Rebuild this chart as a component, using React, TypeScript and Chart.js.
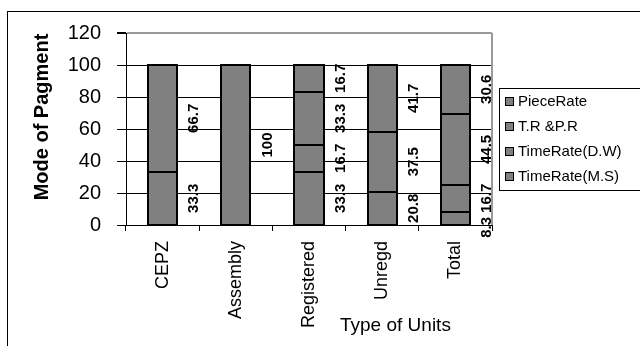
import { useEffect, useRef } from "react";
import { Chart, registerables } from "chart.js";

Chart.register(...registerables);

// Categories along the x axis
const unitTypes = ["CEPZ", "Assembly", "Registered", "Unregd", "Total"];

// Stacked shares (%), listed bottom segment first
const timeRateMS = [33.3, 0, 33.3, 20.8, 8.3];
const timeRateDW = [0, 0, 16.7, 37.5, 16.7];
const trAndPr = [0, 0, 33.3, 0, 44.5];
const pieceRate = [66.7, 100, 16.7, 41.7, 30.6];

// Legend entries, top to bottom
const legendNames = ["PieceRate", "T.R &P.R", "TimeRate(D.W)", "TimeRate(M.S)"];

const yTickValues = [0, 20, 40, 60, 80, 100, 120];

const FONT = "'Liberation Sans', Arial, sans-serif";
const BAR_FILL = "#808080";

const framePlugin = {
  id: "frame",
  beforeDraw(chart: any) {
    const { ctx, width, height } = chart;
    ctx.save();
    ctx.fillStyle = "#ffffff";
    ctx.fillRect(0, 0, width, height);
    ctx.strokeStyle = "#000000";
    ctx.lineWidth = 1;
    ctx.strokeRect(7.5, 11.5, width + 20, height + 20);
    ctx.restore();
  },
  beforeDatasetsDraw(chart: any) {
    const { ctx, chartArea } = chart;
    ctx.save();
    ctx.strokeStyle = "#999999";
    ctx.lineWidth = 2;
    ctx.beginPath();
    ctx.moveTo(chartArea.right, chartArea.top);
    ctx.lineTo(chartArea.right, chartArea.bottom);
    ctx.stroke();
    ctx.restore();
  },
};

// crisp outlines around every stacked segment, snapped to whole pixels
const segmentOutlinePlugin = {
  id: "segmentOutline",
  afterDatasetsDraw(chart: any) {
    const { ctx } = chart;
    ctx.save();
    ctx.strokeStyle = "#000000";
    ctx.lineWidth = 2;
    chart.data.datasets.forEach((ds: any, di: number) => {
      chart.getDatasetMeta(di).data.forEach((el: any, i: number) => {
        if (!(ds.data[i] > 0)) return;
        const l = Math.round(el.x - el.width / 2);
        const r = Math.round(el.x + el.width / 2);
        const t = Math.round(el.y);
        const b = Math.round(el.base);
        ctx.strokeRect(l, t, r - l, b - t);
      });
    });
    ctx.restore();
  },
};

const valueLabelPlugin = {
  id: "valueLabels",
  afterDatasetsDraw(chart: any) {
    const { ctx } = chart;
    const yScale = chart.scales.y;
    const n = chart.data.labels.length;
    ctx.save();
    ctx.font = `bold 15px ${FONT}`;
    ctx.fillStyle = "#000000";
    ctx.textAlign = "center";
    ctx.textBaseline = "middle";
    for (let i = 0; i < n; i++) {
      const segs: { text: string; y: number; half: number }[] = [];
      let base = 0;
      let barX = 0;
      let barW = 0;
      chart.data.datasets.forEach((ds: any, di: number) => {
        const v = ds.data[i];
        const el = chart.getDatasetMeta(di).data[i];
        barX = el.x;
        barW = el.width;
        if (v > 0) {
          const text = String(v);
          segs.push({
            text,
            y: yScale.getPixelForValue(base + v / 2),
            half: ctx.measureText(text).width / 2,
          });
        }
        base += v;
      });
      // keep labels from running into each other, working downward
      let lastBottom = -Infinity;
      for (let s = segs.length - 1; s >= 0; s--) {
        const seg = segs[s];
        let y = seg.y;
        if (y - seg.half < lastBottom + 4) y = lastBottom + 4 + seg.half;
        lastBottom = y + seg.half;
        ctx.save();
        ctx.translate(barX + barW / 2 + 17, y);
        ctx.rotate(-Math.PI / 2);
        ctx.fillText(seg.text, 0, 0);
        ctx.restore();
      }
    }
    ctx.restore();
  },
};

const titlesLegendPlugin = {
  id: "titlesLegend",
  afterDraw(chart: any) {
    const { ctx } = chart;
    ctx.save();
    ctx.fillStyle = "#000000";
    // y axis title
    ctx.font = `bold 20px ${FONT}`;
    ctx.textAlign = "center";
    ctx.textBaseline = "middle";
    ctx.save();
    ctx.translate(42, 117);
    ctx.rotate(-Math.PI / 2);
    ctx.fillText("Mode of Pagment", 0, 0);
    ctx.restore();
    // x axis title
    ctx.font = `19px ${FONT}`;
    ctx.textAlign = "left";
    ctx.fillText("Type of Units", 340, 326);
    // legend box
    ctx.strokeStyle = "#000000";
    ctx.lineWidth = 1;
    ctx.strokeRect(499.5, 88.5, 160, 102);
    ctx.font = `15px ${FONT}`;
    ctx.textAlign = "left";
    legendNames.forEach((name, k) => {
      const cy = 101 + k * 25;
      ctx.fillStyle = BAR_FILL;
      ctx.fillRect(505, cy - 4, 8, 8);
      ctx.strokeStyle = "#000000";
      ctx.strokeRect(505.5, cy - 3.5, 8, 8);
      ctx.fillStyle = "#000000";
      ctx.fillText(name, 518, cy + 1);
    });
    ctx.restore();
  },
};

export default function App() {
  const canvasRef = useRef<HTMLCanvasElement | null>(null);

  useEffect(() => {
    const canvas = canvasRef.current;
    if (!canvas) return;
    const series = [timeRateMS, timeRateDW, trAndPr, pieceRate];
    const names = [...legendNames].reverse();
    const chart = new Chart(canvas, {
      type: "bar",
      data: {
        labels: unitTypes,
        datasets: series.map((data, i) => ({
          label: names[i],
          data,
          backgroundColor: BAR_FILL,
          borderWidth: 0,
          barPercentage: 0.4,
          categoryPercentage: 1,
        })),
      },
      options: {
        responsive: false,
        animation: false,
        devicePixelRatio: 1,
        layout: { padding: { top: 33, left: 0, right: 148, bottom: 0 } },
        plugins: {
          legend: { display: false },
          tooltip: { enabled: false },
        },
        scales: {
          x: {
            stacked: true,
            afterFit(scale: any) {
              scale.height = 121;
            },
            border: { display: true, color: "#000000", width: 1 },
            grid: {
              offset: true,
              drawOnChartArea: false,
              drawTicks: true,
              tickLength: 6,
              color: "#000000",
            },
            ticks: {
              color: "#000000",
              font: { family: FONT, size: 18 },
              maxRotation: 90,
              minRotation: 90,
              padding: 10,
            },
          },
          y: {
            stacked: true,
            min: 0,
            max: 120,
            afterFit(scale: any) {
              scale.width = 126;
            },
            afterBuildTicks(scale: any) {
              scale.ticks = yTickValues.map((v) => ({ value: v }));
            },
            border: { display: true, color: "#000000", width: 1 },
            grid: {
              drawTicks: true,
              tickLength: 9,
              tickColor: "#000000",
              color: (c: any) => (c.tick && c.tick.value === 120 ? "#999999" : "#000000"),
              lineWidth: (c: any) => (c.tick && c.tick.value === 120 ? 2 : 1),
            },
            ticks: {
              color: "#000000",
              font: { family: FONT, size: 20 },
              padding: 16,
            },
          },
        },
      },
      plugins: [framePlugin, segmentOutlinePlugin, valueLabelPlugin, titlesLegendPlugin],
    });
    return () => chart.destroy();
  }, []);

  return (
    <div style={{ position: "fixed", left: 0, top: 0, width: 640, height: 346 }}>
      <canvas ref={canvasRef} width={640} height={346} />
    </div>
  );
}
